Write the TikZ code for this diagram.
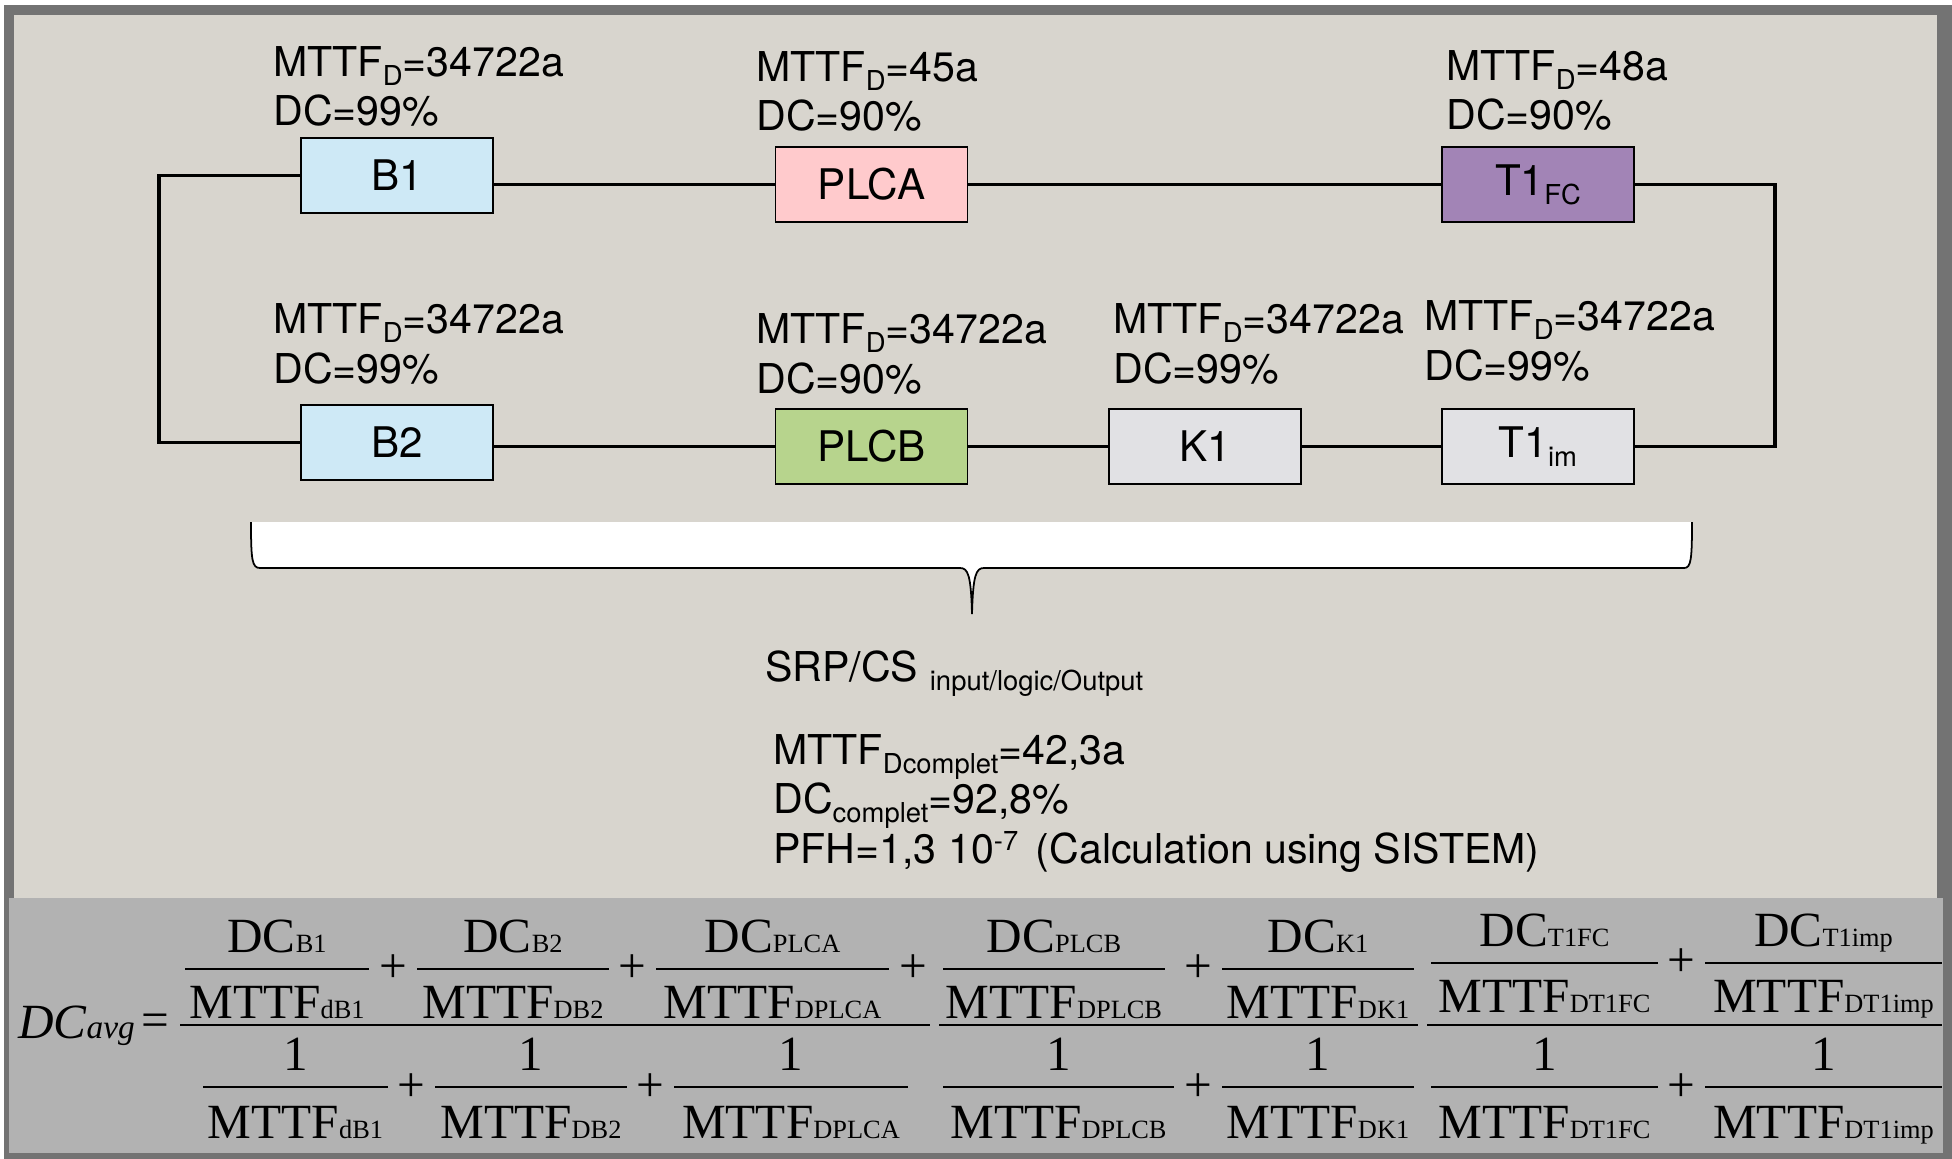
\documentclass[tikz,border=0pt]{standalone}
\usepackage{fontspec}
\setmainfont{TeX Gyre Heros}
\newfontfamily\timesfont{Liberation Serif}
\usepackage{tikz}
\usetikzlibrary{positioning}

\definecolor{framegray}{HTML}{737373}
\definecolor{panelgray}{HTML}{D8D5CE}
\definecolor{formulagray}{HTML}{B2B2B2}
\definecolor{blueblock}{HTML}{CEE9F6}
\definecolor{pinkblock}{HTML}{FFCACC}
\definecolor{purpleblock}{HTML}{A284B6}
\definecolor{greenblock}{HTML}{B7D48D}
\definecolor{greyblock}{HTML}{E1E1E4}

\newcommand{\lsub}[1]{\raisebox{-5pt}{\fontsize{15.6}{15.6}\selectfont #1}}
\newcommand{\lsup}[1]{\raisebox{7pt}{\fontsize{15.6}{15.6}\selectfont #1}}
\newcommand{\fsub}[1]{{\fontsize{15}{15}\selectfont #1}}

\tikzset{
    block/.style={draw, line width=1.1pt, minimum width=3.84cm, minimum height=1.5cm, inner sep=0pt, font=\fontsize{24}{24}\selectfont},
    lbl/.style={anchor=base west, inner sep=0pt, align=left, font=\fontsize{23.4}{27.9}\selectfont},
    wire/.style={line width=2pt},
    ftext/.style={anchor=base, inner sep=0pt, font=\timesfont\fontsize{28}{28}\selectfont},
    fplus/.style={inner sep=0pt, font=\timesfont\fontsize{28}{28}\selectfont},
    fbar/.style={line width=0.75pt},
    mainbar/.style={line width=1.2pt}
}

\begin{document}
\begin{tikzpicture}[x=0.02cm, y=-0.02cm]
                \useasboundingbox (0,0) rectangle (1952,1159);
                \fill[white] (0,0) rectangle (1952,1159);
                \fill[framegray] (4,5) rectangle (1952,1159);
                \fill[panelgray] (14,15) rectangle (1937,898);
                \fill[formulagray] (9,898) rectangle (1943,1153);

                \node[block, fill=blueblock] (B1) at (397,175.5) {B1};
                \node[block, fill=pinkblock] (PLCA) at (871.5,184.5) {PLCA};
                \node[block, fill=purpleblock] (T1FC) at (1538,184.5) {T1\lsub{FC}};
                \node[block, fill=blueblock] (B2) at (397,442.5) {B2};
                \node[block, fill=greenblock] (PLCB) at (871.5,446.5) {PLCB};
                \node[block, fill=greyblock] (K1) at (1205,446.5) {K1};
                \node[block, fill=greyblock] (T1im) at (1538,446.5) {T1\lsub{im}};

                \node[lbl] (lB1) at (273,126) {MTTF\lsub{D}=34722a\\DC=99\%};
                \node[lbl] (lPLCA) at (756,131) {MTTF\lsub{D}=45a\\DC=90\%};
                \node[lbl] (lT1FC) at (1446,130) {MTTF\lsub{D}=48a\\DC=90\%};
                \node[lbl] (lB2) at (273,383) {MTTF\lsub{D}=34722a\\DC=99\%};
                \node[lbl] (lPLCB) at (756,393) {MTTF\lsub{D}=34722a\\DC=90\%};
                \node[lbl] (lK1) at (1113,383) {MTTF\lsub{D}=34722a\\DC=99\%};
                \node[lbl] (lT1im) at (1424,380) {MTTF\lsub{D}=34722a\\DC=99\%};

                \coordinate (busL) at (159,0);
                \coordinate (busR) at (1775,0);
                \draw[wire] (B1.west) -| (busL |- B2.west) -- (B2.west);
                \draw[wire] (B1.east |- PLCA.west) -- (PLCA.west);
                \draw[wire] (PLCA) -- (T1FC);
                \draw[wire] (T1FC.east) -| (busR |- T1im.east) -- (T1im.east);
                \draw[wire] (B2.east |- PLCB.west) -- (PLCB.west);
                \draw[wire] (PLCB) -- (K1);
                \draw[wire] (K1) -- (T1im);

                \fill[white] (251,522) -- (1692,522) .. controls (1692,560) and (1691,568) .. (1684,568) -- (984,568)
                    .. controls (976,568) and (973,575) .. (972,614) .. controls (971,575) and (968,568) .. (960,568)
                    -- (260,568) .. controls (252,568) and (251,560) .. (251,522) -- cycle;
                \draw[line width=1pt] (251,522) .. controls (251,560) and (252,568) .. (260,568) -- (960,568)
                    .. controls (968,568) and (971,575) .. (972,614) .. controls (973,575) and (976,568) .. (984,568)
                    -- (1684,568) .. controls (1691,568) and (1692,560) .. (1692,522);

                \node[lbl] (srp) at (765,681) {SRP/CS \raisebox{-5.5pt}{\fontsize{15.6}{15.6}\selectfont input/logic/Output}};
                \node[lbl] (result) at (773,863) {MTTF\lsub{Dcomplet}=42,3a\\DC\lsub{complet}=92,8\%\\PFH=1,3 10\lsup{-7}\hspace{0.15em} (Calculation using SISTEM)};

                \node[ftext, anchor=base west] (dcavg) at (18,1038) {\itshape DC{\fontsize{19}{19}\selectfont avg}};
                \node[fplus] (eq) at (155,1025) {=};

                \foreach \xa/\xb/\dy/\nm/\dn/\i in {185/369/0/B1/dB1/1, 417/609/0/B2/DB2/2, 656/889/0/PLCA/DPLCA/3, 943/1165/0/PLCB/DPLCB/4, 1222/1414/0/K1/DK1/5, 1431/1658/6/T1FC/DT1FC/6, 1705/1942/6/T1imp/DT1imp/7}{
                    \node[ftext] (dc\i) at ({(\xa+\xb)/2},{952-\dy}) {DC\fsub{\nm}};
                    \node[ftext] (mn\i) at ({(\xa+\xb)/2},{1018-\dy}) {MTTF\fsub{\dn}};
                    \draw[fbar] (\xa,{969-\dy}) -- (\xb,{969-\dy});
                }
                \foreach \xa/\xb/\dn/\i in {203/388/dB1/1, 435/627/DB2/2, 674/908/DPLCA/3, 943/1174/DPLCB/4, 1222/1414/DK1/5, 1431/1658/DT1FC/6, 1705/1942/DT1imp/7}{
                    \node[ftext] (one\i) at ({(\xa+\xb)/2},1070) {1};
                    \node[ftext] (md\i) at ({(\xa+\xb)/2},1138) {MTTF\fsub{\dn}};
                    \draw[fbar] (\xa,1087) -- (\xb,1087);
                }
                \foreach \x/\y [count=\i] in {393.5/969, 632.5/969, 913.5/969, 1198/969, 1681.5/963, 411.5/1088, 650.5/1088, 1198/1088, 1681.5/1088}
                    \node[fplus] (plus\i) at (\x,\y) {+};

                \draw[mainbar] (180,1025) -- (930,1025);
                \draw[mainbar] (939,1025) -- (1418,1025);
                \draw[mainbar] (1427,1025) -- (1942,1025);
            \end{tikzpicture}
\end{document}
